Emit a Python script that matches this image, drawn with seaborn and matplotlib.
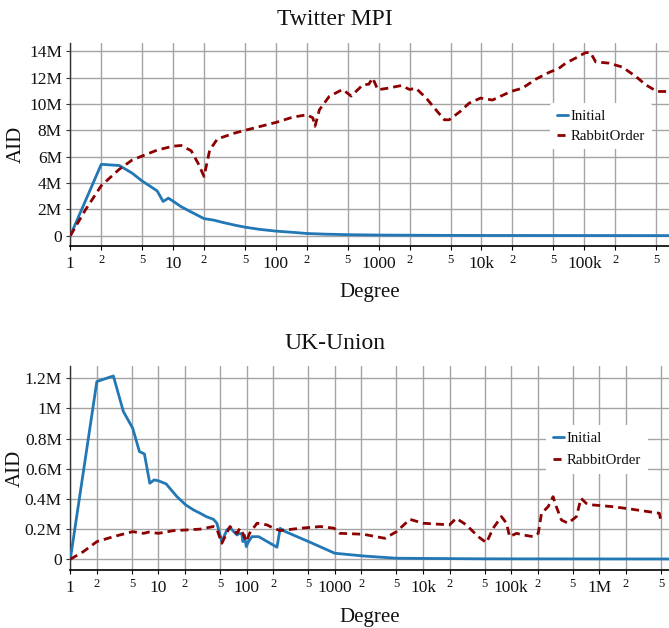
import numpy as np
import pandas as pd
import matplotlib
matplotlib.use("Agg")
import matplotlib.pyplot as plt
import seaborn as sns
from matplotlib.ticker import FixedLocator, FuncFormatter

# ---------------- data (AID values in millions) ----------------
tw_init_deg = [1, 2, 3, 4, 5, 6, 7, 8, 9, 10, 12, 15, 20, 25, 30, 40, 50, 70, 100,
               150, 200, 300, 500, 1000, 3000, 10000, 100000, 660000]
tw_init_aid = [0, 5.42, 5.33, 4.75, 4.15, 3.75, 3.4, 2.6, 2.85, 2.62, 2.2, 1.8, 1.3,
               1.18, 1.02, 0.8, 0.65, 0.48, 0.35, 0.25, 0.17, 0.12, 0.08, 0.05, 0.03,
               0.02, 0.015, 0.01]

tw_rab_deg = [1, 1.4, 2, 3, 4, 5, 7, 10, 12, 15, 17.5, 20, 22.7, 27, 40, 50, 100, 146,
              200, 229, 240, 265, 330, 408, 447, 540, 700, 800, 875, 980, 1230, 1660,
              2000, 2300, 2900, 3600, 4350, 4850, 6200, 7600, 9800, 12800, 19300,
              25000, 34000, 45500, 56500, 66000, 83000, 103000, 115000, 129000,
              174000, 235000, 316000, 397000, 510000, 660000]
tw_rab_aid = [0, 1.95, 3.8, 5.05, 5.75, 6.05, 6.5, 6.8, 6.85, 6.45, 5.5, 4.5, 6.5, 7.35,
              7.8, 8.0, 8.6, 9.0, 9.18, 8.95, 8.3, 9.56, 10.57, 10.95, 11.1, 10.6, 11.45,
              11.5, 11.97, 11.08, 11.2, 11.4, 11.1, 11.2, 10.45, 9.56, 8.8, 8.8, 9.43,
              10.07, 10.45, 10.3, 10.95, 11.2, 11.9, 12.4, 12.7, 13.1, 13.5, 13.9, 13.9,
              13.2, 13.1, 12.8, 12.1, 11.45, 10.95, 10.95]

uk_init_deg = [1, 2, 3.08, 4, 5.1, 6.08, 6.93, 7.97, 8.93, 10, 12.2, 16.2, 20.4, 25,
               29.7, 34.8, 42, 46, 52.3, 59.7, 64.7, 77.6, 83, 88.4, 90.8, 94.5, 99,
               105, 115, 137, 221, 240, 276, 505, 1000, 2100, 5000, 50000, 6170000]
uk_init_aid = [0, 1.178, 1.215, 0.979, 0.869, 0.714, 0.698, 0.504, 0.526, 0.52, 0.50,
               0.415, 0.36, 0.327, 0.305, 0.283, 0.265, 0.239, 0.117, 0.195, 0.21,
               0.161, 0.172, 0.166, 0.117, 0.16, 0.084, 0.117, 0.15, 0.15, 0.08, 0.205,
               0.183, 0.117, 0.04, 0.022, 0.007, 0.003, 0.002]

uk_rab_deg = [1, 1.4, 2, 3.08, 5.1, 6.8, 7.7, 10, 14.8, 20.4, 29.7, 42, 46, 52.3, 64.7,
              77.6, 84, 90.8, 99, 108, 131, 170, 202, 240, 408, 687, 980, 1140, 2100,
              3700, 5000, 7100, 10000, 20000, 23800, 31000, 42300, 52500, 62500,
              77600, 88600, 96000, 115000, 137000, 178000, 203000, 221000, 263000,
              299000, 325000, 372000, 442000, 550000, 620000, 710000, 850000,
              1400000, 2200000, 4800000, 5000000]
uk_rab_aid = [0, 0.05, 0.117, 0.15, 0.183, 0.172, 0.18, 0.172, 0.19, 0.194, 0.2, 0.217,
              0.2, 0.106, 0.217, 0.172, 0.206, 0.17, 0.117, 0.172, 0.239, 0.228, 0.206,
              0.19, 0.206, 0.217, 0.206, 0.172, 0.166, 0.139, 0.183, 0.265, 0.239,
              0.228, 0.272, 0.228, 0.15, 0.11, 0.206, 0.283, 0.239, 0.15, 0.172, 0.161,
              0.15, 0.172, 0.305, 0.349, 0.415, 0.349, 0.26, 0.239, 0.283, 0.404,
              0.371, 0.36, 0.349, 0.334, 0.305, 0.25]

titles = ["Twitter MPI", "UK-Union"]
series_names = ["Initial", "RabbitOrder"]
tw_yticks = [0, 2, 4, 6, 8, 10, 12, 14]
uk_yticks = [0, 0.2, 0.4, 0.6, 0.8, 1.0, 1.2]
major_labels = {1: "1", 10: "10", 100: "100", 1000: "1000", 10000: "10k",
                100000: "100k", 1000000: "1M"}

# ---------------- style ----------------
sns.set_theme(style="whitegrid")
plt.rcParams["font.family"] = ["Liberation Serif", "DejaVu Serif"]
plt.rcParams["lines.scale_dashes"] = True

BLUE = "#2277b5"
RED = "#8b0000"
GRID = "#a4a4a4"

fig = plt.figure(figsize=(6.69, 6.28), dpi=100)
W, H = 669.0, 628.0


def px_axes(left, top, right, bottom):
    return fig.add_axes([left / W, 1 - bottom / H, (right - left) / W, (bottom - top) / H])


ax1 = px_axes(70.3, 43, 669, 246)
ax2 = px_axes(70.3, 366, 669, 570)


def draw(ax, init_x, init_y, rab_x, rab_y, yticks, xlim, ylim, leg_anchor, lspace):
    d1 = pd.DataFrame({"deg": init_x, "aid": np.array(init_y) * 1e6})
    d2 = pd.DataFrame({"deg": rab_x, "aid": np.array(rab_y) * 1e6})
    sns.lineplot(data=d1, x="deg", y="aid", ax=ax, color=BLUE, lw=2.0,
                 label=series_names[0], estimator=None, sort=False, zorder=3)
    sns.lineplot(data=d2, x="deg", y="aid", ax=ax, color=RED, lw=2.0,
                 linestyle=(0, (2.9, 1.8)), label=series_names[1],
                 estimator=None, sort=False, zorder=3)
    ax.set_xscale("log")
    ax.set_xlim(*xlim)
    ax.set_ylim(*ylim)

    majors = [v for v in major_labels if v <= xlim[1]]
    minors = []
    for e in range(0, 8):
        for m in (2, 5):
            v = m * 10 ** e
            if v <= xlim[1]:
                minors.append(v)
    ax.xaxis.set_major_locator(FixedLocator(majors))
    ax.xaxis.set_minor_locator(FixedLocator(minors))
    ax.xaxis.set_major_formatter(FuncFormatter(lambda v, p: major_labels.get(int(round(v)), "")))
    ax.xaxis.set_minor_formatter(FuncFormatter(lambda v, p: str(int(round(v / 10 ** np.floor(np.log10(v) + 1e-9))))))

    ax.yaxis.set_major_locator(FixedLocator([t * 1e6 for t in yticks]))
    ax.yaxis.set_major_formatter(FuncFormatter(lambda v, p: "0" if abs(v) < 1 else f"{v / 1e6:g}M"))

    ax.grid(False)
    ax.grid(True, which="both", axis="x", color=GRID, lw=1.0, zorder=0)
    ax.grid(True, which="major", axis="y", color=GRID, lw=1.0, zorder=0)
    ax.set_axisbelow(True)

    ax.tick_params(axis="x", which="major", bottom=True, length=3, width=0.8,
                   color="black", labelsize=12.5, pad=4.5, labelcolor="#111111")
    ax.tick_params(axis="x", which="minor", bottom=True, length=3, width=0.8,
                   color="black", labelsize=9, pad=3.0, labelcolor="#111111")
    ax.tick_params(axis="y", which="major", left=True, length=3, width=0.8,
                   color="#333333", labelsize=12.5, pad=3, labelcolor="#111111")

    for s in ("top", "right"):
        ax.spines[s].set_visible(False)
    ax.spines["left"].set_color("#333333")
    ax.spines["left"].set_linewidth(1.0)
    ax.spines["bottom"].set_color("black")
    ax.spines["bottom"].set_linewidth(1.2)

    ax.set_xlabel("")
    ax.set_ylabel("")
    leg = ax.legend(loc="upper left", bbox_to_anchor=leg_anchor, frameon=True,
                    facecolor="white", edgecolor="none", framealpha=1.0,
                    fontsize=10.7, handlelength=0.75, handletextpad=0.2,
                    labelspacing=lspace, borderpad=0.45, borderaxespad=0)
    leg.set_zorder(5)
    for t in leg.get_texts():
        t.set_color("#111111")


draw(ax1, tw_init_deg, tw_init_aid, tw_rab_deg, tw_rab_aid, tw_yticks,
     (1, 6.67e5), (-0.78e6, 14.63e6), ((550 - 70.3) / 598.7, (246 - 103) / 203), 0.42)
draw(ax2, uk_init_deg, uk_init_aid, uk_rab_deg, uk_rab_aid, uk_yticks,
     (1, 6.17e6), (-0.071e6, 1.281e6), ((546 - 70.3) / 598.7, (570 - 425) / 204), 0.57)

# titles (centred on the figure), axis labels
fig.text(0.5, 1 - 25 / H, titles[0], ha="center", va="baseline", fontsize=17, color="#111111")
fig.text(0.5, 1 - 349 / H, titles[1], ha="center", va="baseline", fontsize=17, color="#111111")
xc = (70.3 + 669) / 2 / W
fig.text(xc, 1 - 297.5 / H, "Degree", ha="center", va="baseline", fontsize=15, color="#111111")
fig.text(xc, 1 - 621.7 / H, "Degree", ha="center", va="baseline", fontsize=15, color="#111111")
fig.text(16.5 / W, 1 - 144.5 / H, "AID", rotation=90, ha="center", va="center", fontsize=15, color="#111111")
fig.text(15 / W, 1 - 468 / H, "AID", rotation=90, ha="center", va="center", fontsize=15, color="#111111")

fig.savefig("out.png", dpi=100)
